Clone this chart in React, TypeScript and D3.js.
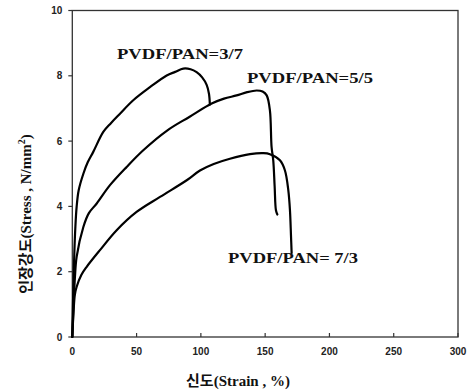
import React from 'react';
import * as d3 from 'd3';

// tick values
const xTicks = [0, 50, 100, 150, 200, 250, 300];
const yTicks = [0, 2, 4, 6, 8, 10];

// PVDF/PAN = 3/7
const strain37 = [0, 0.8, 1.6, 2.3, 3.4, 5, 8.6, 12, 16.3, 24.1, 30, 37.1, 47.4, 60.4, 73.4, 80, 86.3, 92, 96.7, 101, 104.5, 106.3, 107];
const stress37 = [0, 1.5, 2.6, 3.3, 4.0, 4.5, 5.0, 5.35, 5.67, 6.28, 6.55, 6.84, 7.25, 7.65, 8.01, 8.12, 8.22, 8.2, 8.11, 7.95, 7.72, 7.45, 7.12];

// PVDF/PAN = 5/5
const strain55 = [0, 1, 2, 3.4, 8.6, 13, 19, 29.3, 42.3, 55.2, 74, 91, 108.4, 118, 127.8, 136, 143.4, 148, 151.2, 153.7, 155, 156.3, 157.4, 158.4, 159.5];
const stress55 = [0, 1.0, 1.8, 2.46, 3.37, 3.8, 4.09, 4.65, 5.21, 5.72, 6.33, 6.74, 7.15, 7.3, 7.4, 7.5, 7.55, 7.52, 7.4, 6.94, 5.82, 5.41, 4.6, 3.88, 3.75];

// PVDF/PAN = 7/3
const strain73 = [0, 1, 2, 3.4, 7, 11.2, 21.5, 34.5, 50, 68.2, 89, 99.3, 110, 122.6, 138.2, 148.5, 153.7, 161.5, 165.4, 168, 169.3, 170.1, 170.6];
const stress73 = [0, 0.8, 1.3, 1.54, 1.9, 2.15, 2.66, 3.27, 3.83, 4.29, 4.8, 5.1, 5.3, 5.46, 5.6, 5.63, 5.6, 5.41, 5.1, 4.5, 3.88, 3.1, 2.57];

const series = [
  { name: 'PVDF/PAN=3/7', xs: strain37, ys: stress37 },
  { name: 'PVDF/PAN=5/5', xs: strain55, ys: stress55 },
  { name: 'PVDF/PAN= 7/3', xs: strain73, ys: stress73 },
];

const W = 470;
const H = 392;
const margin = { top: 10.5, right: 12, bottom: 55, left: 72.3 };

const App = () => {
  const x = d3.scaleLinear().domain([0, 300]).range([margin.left, W - margin.right]);
  const y = d3.scaleLinear().domain([0, 10]).range([H - margin.bottom, margin.top]);

  const line = d3.line<[number, number]>()
    .x(d => x(d[0]))
    .y(d => y(d[1]))
    .curve(d3.curveCatmullRom.alpha(0.5));

  const tickFont = { fontFamily: '"Liberation Sans", Arial, sans-serif', fontWeight: 'bold', fontSize: 10, fill: '#222' };
  const serifBold = { fontFamily: '"Liberation Serif", "Times New Roman", serif', fontWeight: 'bold' };
  const kr = '"Noto Sans CJK KR", sans-serif';

  // label positions (pixel) for each series
  const labelPos = [
    { lx: 117, ly: 59 },
    { lx: 247, ly: 83 },
    { lx: 228, ly: 263 },
  ];

  return (
    <svg width={W} height={H} style={{ position: 'absolute', left: 0, top: 0, background: '#fff' }}>
      {/* frame */}
      <rect x={x(0)} y={y(10)} width={x(300) - x(0)} height={y(0) - y(10)}
        fill="none" stroke="#333" strokeWidth={1.3} />

      {/* y ticks */}
      {yTicks.map(t => (
        <g key={'y' + t}>
          <line x1={x(0) - 4} x2={x(0)} y1={y(t)} y2={y(t)} stroke="#333" strokeWidth={1.2} />
          <text x={x(0) - 10} y={y(t)} dy="0.35em" textAnchor="end" style={tickFont}>{t}</text>
        </g>
      ))}

      {/* x ticks */}
      {xTicks.map(t => (
        <g key={'x' + t}>
          <line x1={x(t)} x2={x(t)} y1={y(0)} y2={y(0) - 4} stroke="#333" strokeWidth={1.2} />
          <text x={x(t)} y={y(0) + 18} textAnchor="middle" style={tickFont}>{t}</text>
        </g>
      ))}

      {/* curves */}
      {series.map(s => (
        <path key={s.name}
          d={line(s.xs.map((v, i) => [v, s.ys[i]] as [number, number])) || ''}
          fill="none" stroke="#000" strokeWidth={2.2} strokeLinejoin="round" strokeLinecap="round" />
      ))}

      {/* series labels */}
      {series.map((s, i) => (
        <text key={'l' + s.name} x={labelPos[i].lx} y={labelPos[i].ly}
          textLength={i === 2 ? 130 : 126} lengthAdjust="spacingAndGlyphs"
          style={{ ...serifBold, fontSize: 14, fill: '#111' }}>{s.name}</text>
      ))}

      {/* x axis title */}
      <text x={238} y={386} textAnchor="middle" style={{ ...serifBold, fontSize: 15, fill: '#111' }}>
        <tspan style={{ fontFamily: kr }}>신도</tspan>
        <tspan>(Strain , %)</tspan>
      </text>

      {/* y axis title */}
      <text transform="translate(31,214) rotate(-90)" textAnchor="middle"
        style={{ ...serifBold, fontSize: 15, fill: '#111' }}>
        <tspan style={{ fontFamily: kr }}>인장강도</tspan>
        <tspan>(Stress , N/mm</tspan>
        <tspan dy="-6" fontSize={10}>2</tspan>
        <tspan dy="6">)</tspan>
      </text>
    </svg>
  );
};

export default App;
